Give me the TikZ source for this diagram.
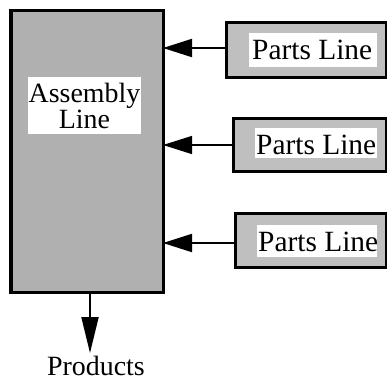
\documentclass[tikz,border=0pt]{standalone}
\usepackage{fontspec}
\setmainfont{Liberation Serif}
\usetikzlibrary{arrows.meta}
\begin{document}
\begin{tikzpicture}[x=1bp,y=-1bp,
  asmbox/.style={draw=black,line width=3bp,fill=gray!62},
  partframe/.style={draw=black,line width=3bp,fill=gray!50},
  whitelabel/.style={fill=white,inner sep=0pt},
  txt/.style={font=\fontsize{28}{30}\selectfont,inner sep=0pt},
  ptxt/.style={font=\fontsize{29.5}{31}\selectfont,inner sep=0pt,anchor=west},
  feed/.style={-{Triangle[length=29bp,width=18bp]},line width=2bp},
]
\useasboundingbox (0,0) rectangle (387,382);
% Assembly line
\path[asmbox] (11,10) rectangle (163,292);
\coordinate (asmR1) at (163,48);
\coordinate (asmR2) at (163,145);
\coordinate (asmR3) at (163,243);
\coordinate (asmB) at (90,292);
\path[whitelabel] (28,77) rectangle (141,134);
\node[txt,align=center] (asm) at (84.5,106) {Assembly\\[-3bp]Line};
% Parts lines
\path[partframe] (226,22) rectangle (386,77);
\path[whitelabel] (249,33) rectangle (377,67);
\node[ptxt] (p1) at (252,50) {Parts Line};
\coordinate (p1L) at (226,48);
\path[partframe] (233,118) rectangle (386,171);
\path[whitelabel] (255,128) rectangle (377,158);
\node[ptxt] (p2) at (256,145) {Parts Line};
\coordinate (p2L) at (233,145);
\path[partframe] (235,213) rectangle (386,267);
\path[whitelabel] (257,225) rectangle (377,257);
\node[ptxt] (p3) at (258,242) {Parts Line};
\coordinate (p3L) at (235,243);
% arrows
\draw[feed] (p1L) -- (asmR1);
\draw[feed,line width=1.2bp] (p2L) -- (asmR2);
\draw[feed] (p3L) -- (asmR3);
\node[txt,anchor=base] (prod) at (96,375) {Products};
\coordinate (prodT) at (90,353);
\draw[-{Triangle[length=36bp,width=17bp]},line width=2bp] (asmB) -- (prodT);
\end{tikzpicture}
\end{document}
